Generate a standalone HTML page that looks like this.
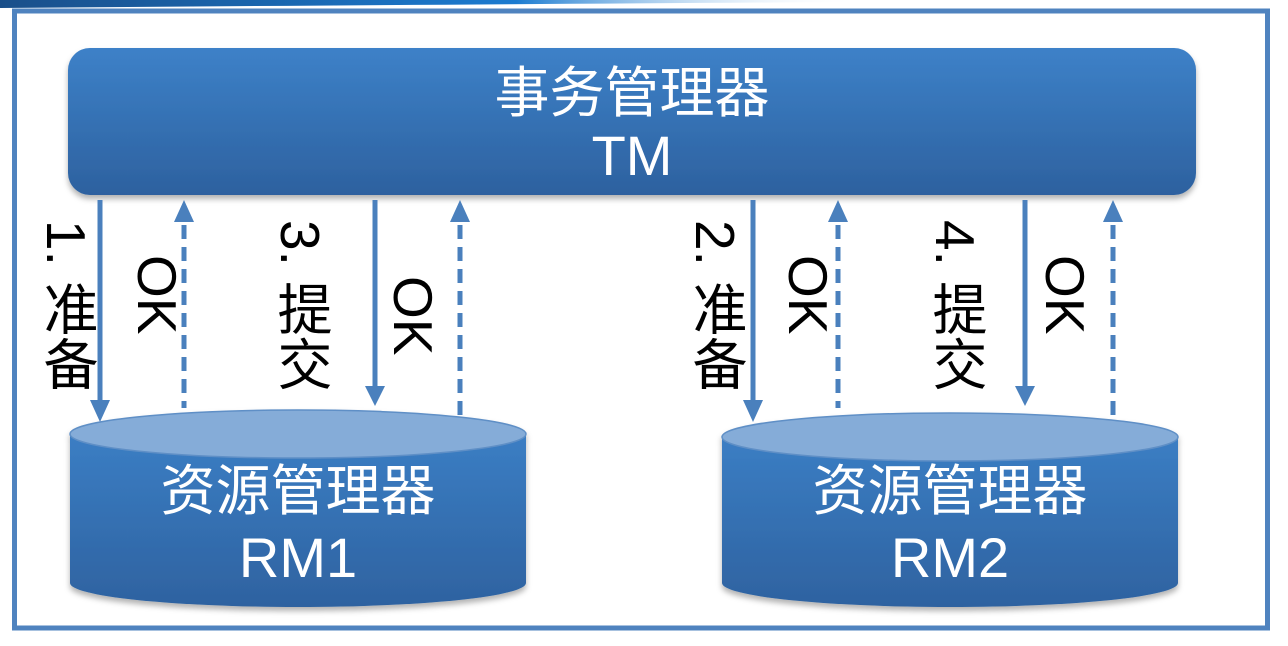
<!DOCTYPE html>
<html><head><meta charset="utf-8"><style>
html,body{margin:0;padding:0;background:#fff;}
body{width:1288px;height:646px;position:relative;overflow:hidden;font-family:"Liberation Sans","Noto Sans CJK SC",sans-serif;}
.v{position:absolute;writing-mode:vertical-rl;font-size:55px;color:#000;line-height:1;white-space:nowrap;font-family:"Liberation Sans","Noto Sans CJK SC",sans-serif;}
</style></head><body>
<svg width="1288" height="646" style="position:absolute;left:0;top:0">
<defs>
<linearGradient id="ban" x1="0" x2="1" y1="0" y2="0">
<stop offset="0" stop-color="#1a4f8a"/><stop offset="0.6" stop-color="#1b7bd0"/><stop offset="1" stop-color="#ffffff" stop-opacity="0"/></linearGradient>
<linearGradient id="tm" x1="0" x2="0" y1="0" y2="1">
<stop offset="0" stop-color="#3d81c8"/><stop offset="1" stop-color="#2d619f"/></linearGradient>
<linearGradient id="cy" x1="0" x2="0" y1="0" y2="1">
<stop offset="0" stop-color="#3b7ec4"/><stop offset="1" stop-color="#2e62a0"/></linearGradient>
<filter id="sh" x="-5%" y="-10%" width="110%" height="130%"><feDropShadow dx="0" dy="4" stdDeviation="3" flood-color="#000" flood-opacity="0.3"/></filter>
</defs>
<path d="M0,0 L860,0 L860,2 Q500,4 0,8 z" fill="url(#ban)"/>
<rect x="14.5" y="11" width="1253" height="617" fill="none" stroke="#4f83bf" stroke-width="5"/>
<rect x="68" y="48" width="1128" height="147" rx="22" fill="url(#tm)" filter="url(#sh)"/>
<text x="632" y="112" font-size="55" fill="#fff" text-anchor="middle" font-family="Liberation Sans,Noto Sans CJK SC,sans-serif">事务管理器</text>
<text x="632" y="175" font-size="56" fill="#fff" text-anchor="middle" font-family="Liberation Sans,sans-serif">TM</text>
<g stroke="#4a80bd" stroke-width="5" fill="none">
<line x1="100" y1="200" x2="100" y2="405"/>
<line x1="375" y1="200" x2="375" y2="392"/>
<line x1="753" y1="200" x2="753" y2="405"/>
<line x1="1025" y1="200" x2="1025" y2="392"/>
<g stroke-dasharray="14,8">
<line x1="184" y1="225" x2="184" y2="408"/>
<line x1="460" y1="225" x2="460" y2="420"/>
<line x1="838" y1="225" x2="838" y2="408"/>
<line x1="1113" y1="225" x2="1113" y2="420"/>
</g></g>
<g fill="#4a80bd">
<path d="M90,400 L110,400 L100,422 z"/><path d="M365,386 L385,386 L375,406 z"/>
<path d="M743,400 L763,400 L753,422 z"/><path d="M1015,386 L1035,386 L1025,406 z"/>
<path d="M174,222 L194,222 L184,200 z"/><path d="M450,222 L470,222 L460,200 z"/>
<path d="M828,222 L848,222 L838,200 z"/><path d="M1103,222 L1123,222 L1113,200 z"/>
</g>
<g filter="url(#sh)">
<path d="M70,434 L70,583 A228,24 0 0 0 526,583 L526,434 z" fill="url(#cy)"/>
<ellipse cx="298" cy="434" rx="228" ry="24" fill="#85acd8" stroke="#5f8fc6" stroke-width="1.5"/>
<path d="M722,437 L722,583 A228,24 0 0 0 1178,583 L1178,437 z" fill="url(#cy)"/>
<ellipse cx="950" cy="437" rx="228" ry="24" fill="#85acd8" stroke="#5f8fc6" stroke-width="1.5"/>
</g>
<text x="298" y="510" font-size="55" fill="#fff" text-anchor="middle" font-family="Liberation Sans,Noto Sans CJK SC,sans-serif">资源管理器</text>
<text x="298" y="577" font-size="56" fill="#fff" text-anchor="middle" font-family="Liberation Sans,sans-serif">RM1</text>
<text x="950" y="510" font-size="55" fill="#fff" text-anchor="middle" font-family="Liberation Sans,Noto Sans CJK SC,sans-serif">资源管理器</text>
<text x="950" y="577" font-size="56" fill="#fff" text-anchor="middle" font-family="Liberation Sans,sans-serif">RM2</text>
</svg>
<div class="v" style="left:38px;top:220px;">1. 准备</div>
<div class="v" style="left:129px;top:255px;">OK</div>
<div class="v" style="left:272px;top:220px;">3. 提交</div>
<div class="v" style="left:385px;top:276px;">OK</div>
<div class="v" style="left:687px;top:220px;">2. 准备</div>
<div class="v" style="left:780px;top:255px;">OK</div>
<div class="v" style="left:927px;top:220px;">4. 提交</div>
<div class="v" style="left:1037px;top:255px;">OK</div>
</body></html>
